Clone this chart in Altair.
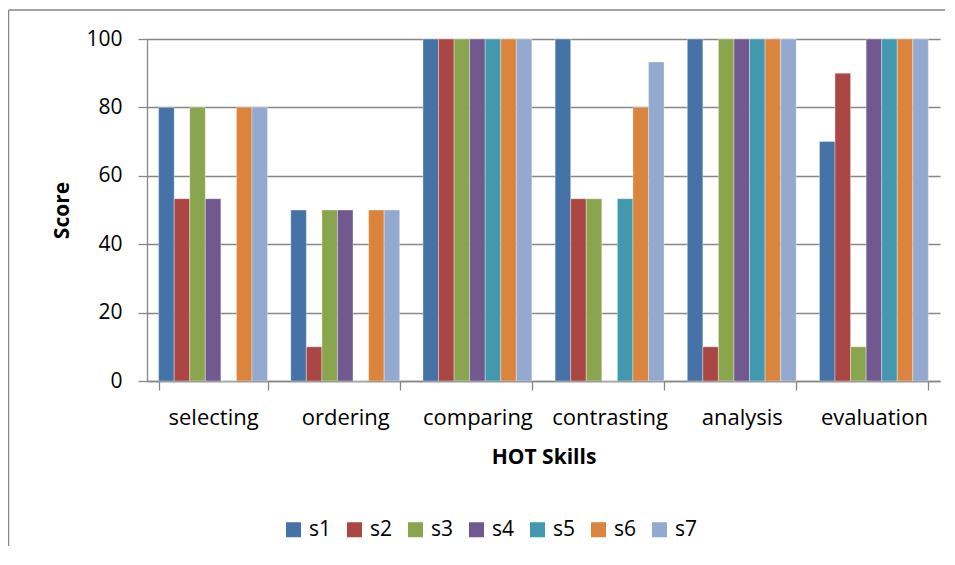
import altair as alt
import pandas as pd

skills = ["selecting", "ordering", "comparing", "contrasting", "analysis", "evaluation"]
series = ["s1", "s2", "s3", "s4", "s5", "s6", "s7"]
s1 = [80, 50, 100, 100, 100, 70]
s2 = [53.3, 10, 100, 53.3, 10, 90]
s3 = [80, 50, 100, 53.3, 100, 10]
s4 = [53.3, 50, 100, 0, 100, 100]
s5 = [0, 0, 100, 53.3, 100, 100]
s6 = [80, 50, 100, 80, 100, 100]
s7 = [80, 50, 100, 93.3, 100, 100]
colors = ["#4572A7", "#AA4643", "#89A54E", "#71588F", "#4198AF", "#DB843D", "#93A9CF"]

rows = []
for name, vals in zip(series, [s1, s2, s3, s4, s5, s6, s7]):
    for sk, v in zip(skills, vals):
        rows.append({"skill": sk, "series": name, "score": v})
df = pd.DataFrame(rows)

GRAY = "#878787"
FONT = "Open Sans"

bars = alt.Chart(df).mark_bar(stroke="white", strokeWidth=0.5, strokeOpacity=0.7).encode(
    x=alt.X("skill:N", sort=skills,
            scale=alt.Scale(paddingInner=0.176, paddingOuter=0.088),
            axis=alt.Axis(tickBand="extent", tickSize=9, grid=False, labelAngle=0,
                          labelPadding=34, labelBaseline="alphabetic", labelFontSize=22,
                          labelColor="#000000", labelFont=FONT,
                          title="HOT Skills", titleFontSize=21, titleFontWeight="bold",
                          titleFont=FONT, titleColor="#000000",
                          titleY=82, titleBaseline="alphabetic",
                          domainColor=GRAY, domainWidth=1.3, tickColor=GRAY, tickWidth=1.3)),
    xOffset=alt.XOffset("series:N", sort=series,
                        scale=alt.Scale(domain=series, paddingInner=0, paddingOuter=0)),
    y=alt.Y("score:Q", scale=alt.Scale(domain=[0, 100], nice=False),
            axis=alt.Axis(values=[0, 20, 40, 60, 80, 100], tickSize=9, labelPadding=16,
                          labelFontSize=21, labelColor="#000000", labelFont=FONT,
                          grid=True, gridColor=GRAY, gridWidth=1.3,
                          domainColor=GRAY, domainWidth=1.3, tickColor=GRAY, tickWidth=1.3,
                          title="Score", titleFontSize=21, titleFontWeight="bold",
                          titleFont=FONT, titleColor="#000000",
                          titleAngle=270, titleX=-79, titleY=171,
                          titleBaseline="alphabetic", titleAlign="center")),
    color=alt.Color("series:N", sort=series,
                    scale=alt.Scale(domain=series, range=colors),
                    legend=alt.Legend(orient="none", legendX=136, legendY=480,
                                      direction="horizontal", title=None,
                                      symbolType="square", symbolSize=225,
                                      symbolStrokeWidth=0, labelFontSize=21,
                                      labelFont=FONT, labelColor="#000000",
                                      labelOffset=5, columnPadding=12)),
)

one = pd.DataFrame({"a": [0]})
border_left = alt.Chart(one).mark_rule(color=GRAY, strokeWidth=1.5).encode(
    x=alt.value(-138.5), y=alt.value(-29), y2=alt.value(510))
border_top = alt.Chart(one).mark_rule(color=GRAY, strokeWidth=1.5).encode(
    x=alt.value(-138.5), x2=alt.value(800), y=alt.value(-29))

chart = alt.layer(bars, border_left, border_top).properties(
    width=793, height=342,
    padding={"left": 139, "top": 31, "right": 5, "bottom": 165},
    autosize=alt.AutoSizeParams(type="none"),
).configure_view(stroke=None)

chart.save("out.html", embed_options={"renderer": "svg", "actions": False})
